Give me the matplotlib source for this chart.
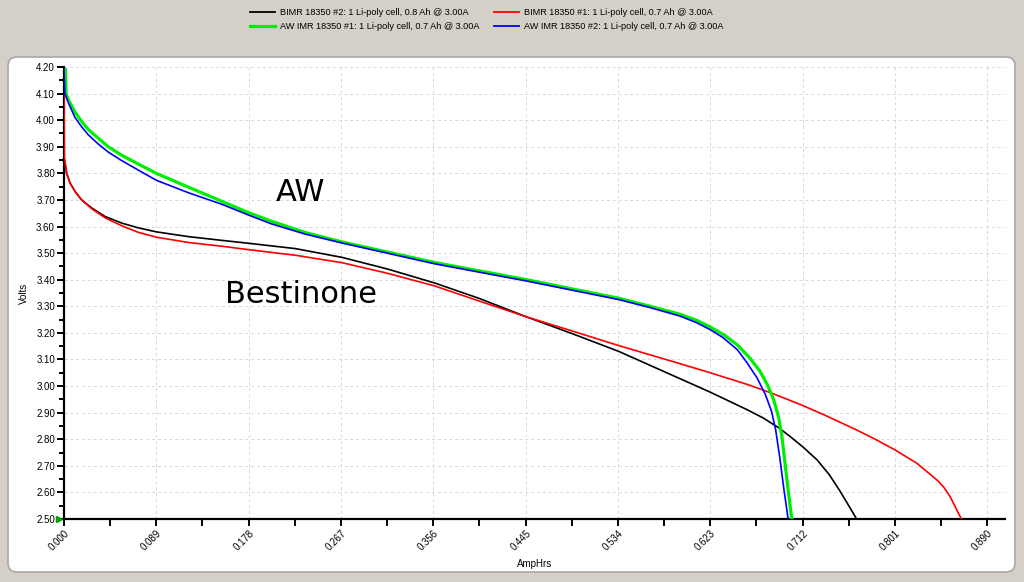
import numpy as np
import matplotlib
matplotlib.use("Agg")
import matplotlib.pyplot as plt
from matplotlib.patches import FancyBboxPatch
from matplotlib.lines import Line2D
import matplotlib.transforms as mtransforms

# Leituras aproximadas da imagem (AmpHrs, Volts)
bimr2_ah = [0, 0.0026, 0.0058, 0.0106, 0.017, 0.0267, 0.0395, 0.0556, 0.0717, 0.089,
            0.12, 0.152, 0.178, 0.223, 0.268, 0.312, 0.357, 0.40, 0.446, 0.49, 0.535,
            0.581, 0.623, 0.658, 0.674, 0.689, 0.700, 0.712, 0.726, 0.738, 0.748, 0.758,
            0.764]
bimr2_v = [3.86, 3.80, 3.764, 3.732, 3.70, 3.67, 3.638, 3.613, 3.595, 3.58,
           3.562, 3.548, 3.537, 3.517, 3.484, 3.44, 3.388, 3.33, 3.26, 3.197, 3.13,
           3.05, 2.977, 2.912, 2.88, 2.843, 2.81, 2.772, 2.722, 2.665, 2.605, 2.54,
           2.50]

bimr1_ah = [0, 0.0004, 0.0026, 0.0058, 0.0106, 0.017, 0.0267, 0.0395, 0.0556, 0.0717,
            0.089, 0.12, 0.152, 0.178, 0.223, 0.268, 0.312, 0.357, 0.40, 0.446, 0.49,
            0.535, 0.594, 0.623, 0.658, 0.681, 0.700, 0.712, 0.732, 0.764, 0.782, 0.801,
            0.822, 0.842, 0.848, 0.854, 0.865]
bimr1_v = [4.10, 3.86, 3.80, 3.764, 3.732, 3.70, 3.667, 3.633, 3.603, 3.578,
           3.56, 3.54, 3.526, 3.513, 3.492, 3.464, 3.424, 3.377, 3.32, 3.26, 3.207,
           3.152, 3.084, 3.05, 3.007, 2.975, 2.946, 2.927, 2.893, 2.835, 2.80, 2.76,
           2.71, 2.645, 2.62, 2.585, 2.50]

aw1_ah = [0.0015, 0.002, 0.0041, 0.0106, 0.017, 0.0234, 0.0331, 0.0427, 0.0556, 0.0717,
          0.089, 0.12, 0.152, 0.178, 0.200, 0.232, 0.268, 0.357, 0.446, 0.535, 0.565,
          0.594, 0.61, 0.623, 0.636, 0.649, 0.661, 0.671, 0.678, 0.684, 0.689, 0.692,
          0.695, 0.698, 0.7015]
aw1_v = [4.19, 4.10, 4.077, 4.03, 3.995, 3.965, 3.932, 3.90, 3.868, 3.835,
         3.80, 3.748, 3.695, 3.652, 3.62, 3.578, 3.542, 3.465, 3.40, 3.33, 3.30,
         3.27, 3.247, 3.222, 3.193, 3.155, 3.106, 3.055, 3.005, 2.95, 2.88, 2.81,
         2.71, 2.61, 2.50]

aw2_ah = [0, 0.0008, 0.0041, 0.0106, 0.017, 0.0234, 0.0331, 0.0427, 0.0556, 0.0717,
          0.089, 0.12, 0.152, 0.178, 0.200, 0.232, 0.268, 0.357, 0.446, 0.535, 0.565,
          0.594, 0.61, 0.623, 0.635, 0.649, 0.658, 0.668, 0.676, 0.682, 0.686, 0.690,
          0.694, 0.698]
aw2_v = [4.20, 4.10, 4.066, 4.01, 3.975, 3.945, 3.91, 3.88, 3.848, 3.812,
         3.774, 3.727, 3.684, 3.643, 3.61, 3.572, 3.538, 3.46, 3.395, 3.325, 3.295,
         3.263, 3.238, 3.212, 3.183, 3.137, 3.09, 3.031, 2.969, 2.905, 2.835, 2.73,
         2.61, 2.50]

labels = [
    "BIMR 18350 #2: 1 Li-poly cell, 0.8 Ah @ 3.00A",
    "BIMR 18350 #1: 1 Li-poly cell, 0.7 Ah @ 3.00A",
    "AW IMR 18350 #1: 1 Li-poly cell, 0.7 Ah @ 3.00A",
    "AW IMR 18350 #2: 1 Li-poly cell, 0.7 Ah @ 3.00A",
]
x_ticks = np.arange(11) * 0.089
y_ticks = np.arange(2.5, 4.2001, 0.1)

plt.rcParams['font.family'] = ['Liberation Sans', 'DejaVu Sans']

fig = plt.figure(figsize=(10.24, 5.82), dpi=100)
fig.patch.set_facecolor('#d4d0c8')

# painel branco arredondado (coordenadas em pixels)
panel = FancyBboxPatch((8, 10), 1007, 515, boxstyle="round,pad=0,rounding_size=9",
                       transform=mtransforms.IdentityTransform(),
                       facecolor='white', edgecolor='#a8a8a8', linewidth=1.2, zorder=-10)
fig.patches.append(panel)

ax = fig.add_axes([0.0625, 0.1082, 0.9189, 0.7767])
ax.set_facecolor('none')

ax.plot(bimr2_ah, bimr2_v, color='black', lw=1.2, zorder=3)
ax.plot(bimr1_ah, bimr1_v, color='#ff0000', lw=1.2, zorder=4)
ax.plot(aw1_ah, aw1_v, color='#00ee00', lw=2.3, zorder=5)
ax.plot(aw2_ah, aw2_v, color='#0000ff', lw=1.2, zorder=6)

ax.set_xlim(0, 0.907)
ax.set_ylim(2.5, 4.2)
ax.set_xticks(x_ticks)
ax.set_xticklabels([f"{t:.3f}" for t in x_ticks], rotation=45, ha='right',
                   va='top', rotation_mode='anchor', fontsize=7)
ax.set_xticks(x_ticks[:-1] + 0.0445, minor=True)
ax.set_yticks(y_ticks)
ax.set_yticklabels([f"{t:.2f}" for t in y_ticks], fontsize=7)
ax.set_yticks(np.arange(2.55, 4.2, 0.1), minor=True)

ax.grid(True, which='major', color='#d8d8d8', linestyle=(0, (3, 3)), linewidth=0.7)
for s in ['top', 'right']:
    ax.spines[s].set_visible(False)
for s in ['left', 'bottom']:
    ax.spines[s].set_linewidth(1.6)
ax.tick_params(axis='both', which='major', length=5, width=1.4, pad=1.5, colors='black')
ax.tick_params(axis='y', which='minor', length=3.5, width=1.4)
ax.tick_params(axis='x', which='minor', length=5, width=1.4)

ax.set_xlabel("AmpHrs", fontsize=7, labelpad=5)
ax.set_ylabel("Volts", fontsize=7, labelpad=5)

# cursor verde no canto
ax.plot([-0.005], [0], marker='>', color='#00a000', ms=4, transform=ax.transAxes,
        clip_on=False, zorder=7)

ax.text(0.2275, 3.727, "AW", fontsize=22, family='DejaVu Sans', ha='center', va='center')
ax.text(0.2285, 3.344, "Bestinone", fontsize=22, family='DejaVu Sans', ha='center', va='center')

handles = [Line2D([], [], color='black', lw=1.3),
           Line2D([], [], color='#00ee00', lw=2.3),
           Line2D([], [], color='#ff0000', lw=1.3),
           Line2D([], [], color='#0000ff', lw=1.3)]
leg_labels = [labels[0], labels[2], labels[1], labels[3]]
fig.legend(handles, leg_labels, loc='upper center', bbox_to_anchor=(0.4756, 0.998), ncol=2,
           frameon=False, fontsize=6.6, handlelength=2.7, handletextpad=0.55,
           columnspacing=1.6, labelspacing=0.5, borderpad=0.3)

fig.savefig("out.png", dpi=100, facecolor=fig.get_facecolor())
